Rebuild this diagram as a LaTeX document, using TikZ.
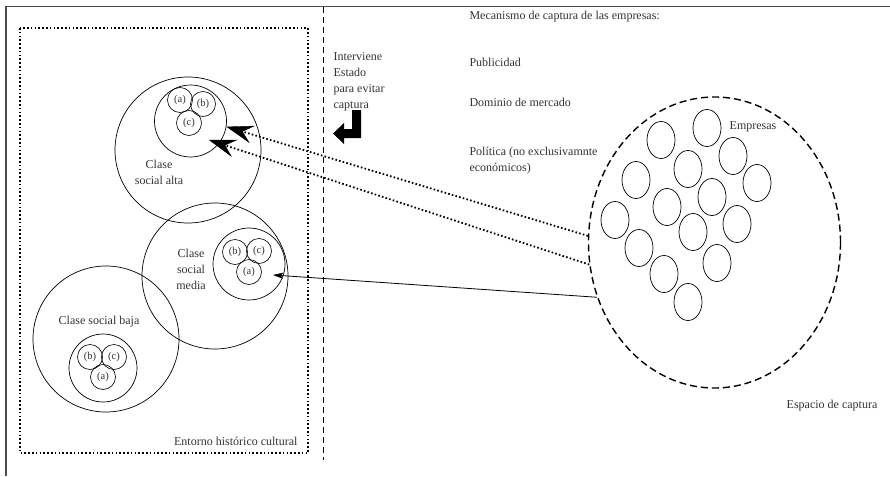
\documentclass[tikz,border=0pt]{standalone}
\usepackage{fontspec}
\setmainfont{Liberation Serif}
\usetikzlibrary{arrows.meta,shapes.geometric}
\definecolor{TextClr}{rgb}{0.2,0.2,0.2}
\definecolor{FrameClr}{rgb}{0.3,0.3,0.3}

\begin{document}
\begin{tikzpicture}[x=1pt,y=-1pt,
  every node/.style={text=TextClr,font=\fontsize{12}{16}\selectfont},
  clase/.style={draw=black,circle,line width=0.7pt,minimum size=146pt,inner sep=0pt},
  grupo/.style={draw=black,circle,line width=0.7pt,minimum size=72pt,inner sep=0pt},
  sub/.style={draw=black,circle,line width=0.6pt,minimum size=25pt,inner sep=0pt,font=\fontsize{10.5}{10}\selectfont},
  empresa/.style={draw=black,ellipse,line width=0.7pt,minimum width=28pt,minimum height=37pt,inner sep=0pt},
  puntos/.style={line width=1.6pt,dash pattern=on 1.6pt off 2.2pt},
  captura/.style={puntos,line width=1.8pt,-{Stealth[length=27pt,width=18pt,inset=10pt,line width=0.4pt]}},
  directa/.style={line width=0.8pt,-{Stealth[length=10pt,width=6pt,inset=2pt]}}]
\useasboundingbox (0,0) rectangle (890,476);

\draw[FrameClr,line width=1.3pt] (6,476) -- (6,6.5) -- (890,6.5);
\draw[line width=0.9pt,dash pattern=on 6pt off 4pt] (323,7) -- (323,460);
\draw[puntos] (20,28) rectangle (308,453);

\node[clase] (alta) at (188,150) {};
\node[grupo] (altain) at (190.5,121) {};
\node[sub] (altaA) at (180,100) {(a)};
\node[sub] (altaB) at (203,104) {(b)};
\node[sub] (altaC) at (189,123) {(c)};
\node[align=center] (altatxt) at (159,172) {Clase\\social alta};

\node[clase] (media) at (215,276) {};
\node[grupo] (mediain) at (249,264) {};
\node[sub] (mediaB) at (235,252) {(b)};
\node[sub] (mediaC) at (259,251) {(c)};
\node[sub] (mediaA) at (249,272) {(a)};
\node[align=center] (mediatxt) at (191,269) {Clase\\social\\media};

\node[clase] (baja) at (106,339) {};
\node[grupo,minimum size=68pt] (bajain) at (103,368) {};
\node[sub] (bajaB) at (90,357) {(b)};
\node[sub] (bajaC) at (114,357) {(c)};
\node[sub] (bajaA) at (103,377) {(a)};
\node (bajatxt) at (99,322) {Clase social baja};

\node[anchor=east] (entorno) at (301,441) {Entorno hist\'orico cultural};

\node[align=left,anchor=west] (estado) at (330,82) {Interviene\\Estado\\para evitar\\captura};
\fill (361,110) -- (361,138) -- (344,138) -- (344,144) -- (333,133.5) -- (344,123)
  -- (344,129) -- (352,129) -- (352,110) -- cycle;

\node[anchor=west] (mecanismo) at (466,17) {Mecanismo de captura de las empresas:};
\node[anchor=west] (publicidad) at (466,62) {Publicidad};
\node[anchor=west] (dominio) at (466,102) {Dominio de mercado};
\node[anchor=west,align=left] (politica) at (466,161) {Pol\'itica (no exclusivamnte\\econ\'omicos)};

\node[draw=black,ellipse,line width=1.4pt,dash pattern=on 7pt off 4pt,
  minimum width=252pt,minimum height=291pt] (espacio) at (714.5,242.5) {};
\node[empresa] (e1) at (707,128) {};
\node[empresa] (e2) at (661,140) {};
\node[empresa] (e3) at (733,156) {};
\node[empresa] (e4) at (688,169) {};
\node[empresa] (e5) at (636,180) {};
\node[empresa] (e6) at (757,183) {};
\node[empresa] (e7) at (712,197) {};
\node[empresa] (e8) at (667,207) {};
\node[empresa] (e9) at (615,220) {};
\node[empresa] (e10) at (737,224) {};
\node[empresa] (e11) at (693,232) {};
\node[empresa] (e12) at (639,248) {};
\node[empresa] (e13) at (717,263) {};
\node[empresa] (e14) at (664,274) {};
\node[empresa] (e15) at (688,302) {};
\node (empresas) at (753,127) {Empresas};
\node (espaciotxt) at (832,406) {Espacio de captura};

\coordinate (altaP) at (209,140);
\coordinate (mediaP) at (273,275);
\draw[captura] (espacio.177.5) -- (altain.-9);
\draw[captura] (espacio.190.5) -- (altaP);
\draw[directa] (espacio.205) -- (mediaP);
\end{tikzpicture}
\end{document}
